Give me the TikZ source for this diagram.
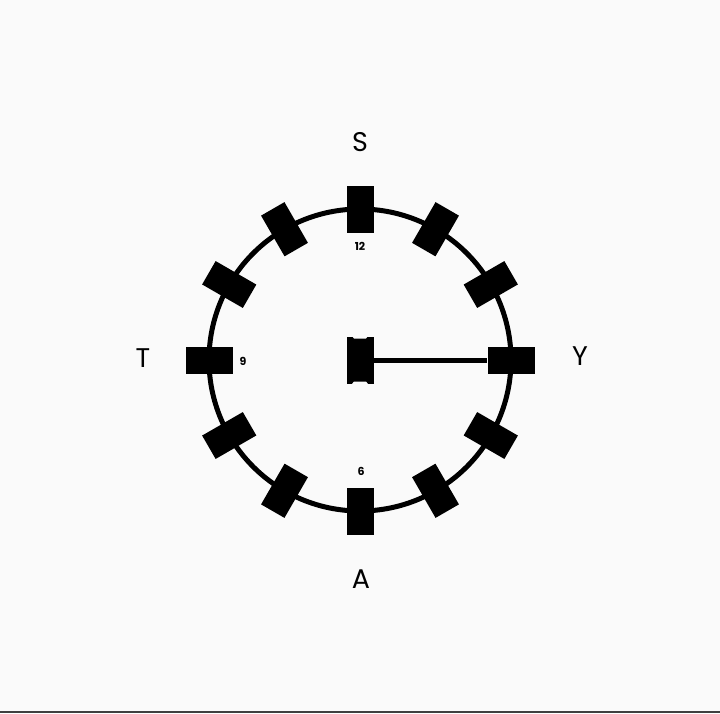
\documentclass[tikz,border=0pt]{standalone}
\usepackage{fontspec}
\setmainfont{Poppins}
\begin{document}
\begin{tikzpicture}[x=1pt,y=-1pt,
  tick/.style={fill=black,rectangle,inner sep=0pt,minimum width=47pt,minimum height=27pt},
  letter/.style={font=\fontsize{27}{30}\selectfont},
  num/.style={font=\fontsize{11}{13}\selectfont\bfseries}]
\definecolor{bg}{RGB}{250,250,250}
\fill[bg] (0,0) rectangle (720,713);
\useasboundingbox (0,0) rectangle (720,713);
\draw[line width=2pt, black!75] (0,712) -- (720,712);
\coordinate (O) at (360,360);
\draw[line width=5pt] (O) circle[radius=151pt];
\foreach \a in {0,30,...,330}{
  \node[tick, rotate=\a] (t\a) at ([shift={(\a:151pt)}]O) {};
}
% centre piece
\node[fill=black, inner sep=0pt, minimum width=27pt, minimum height=47pt] (c) at (O) {};
\fill[bg] (352,336) -- (354,338.5) -- (366,338.5) -- (368,336) -- cycle;
\fill[bg] (352,384) -- (354,381.5) -- (366,381.5) -- (368,384) -- cycle;
% hand
\draw[line width=5pt] (c.east) -- (t0.west);
% labels
\node[letter] (S) at (360,142) {S};
\node[letter] (A) at (361,579) {A};
\node[letter] (T) at (143,358) {T};
\node[letter] (Y) at (580,356) {Y};
\node[num] (n12) at (360,246) {12};
\node[num] (n6) at (361,471) {6};
\node[num] (n9) at (243,361) {9};
\end{tikzpicture}
\end{document}
